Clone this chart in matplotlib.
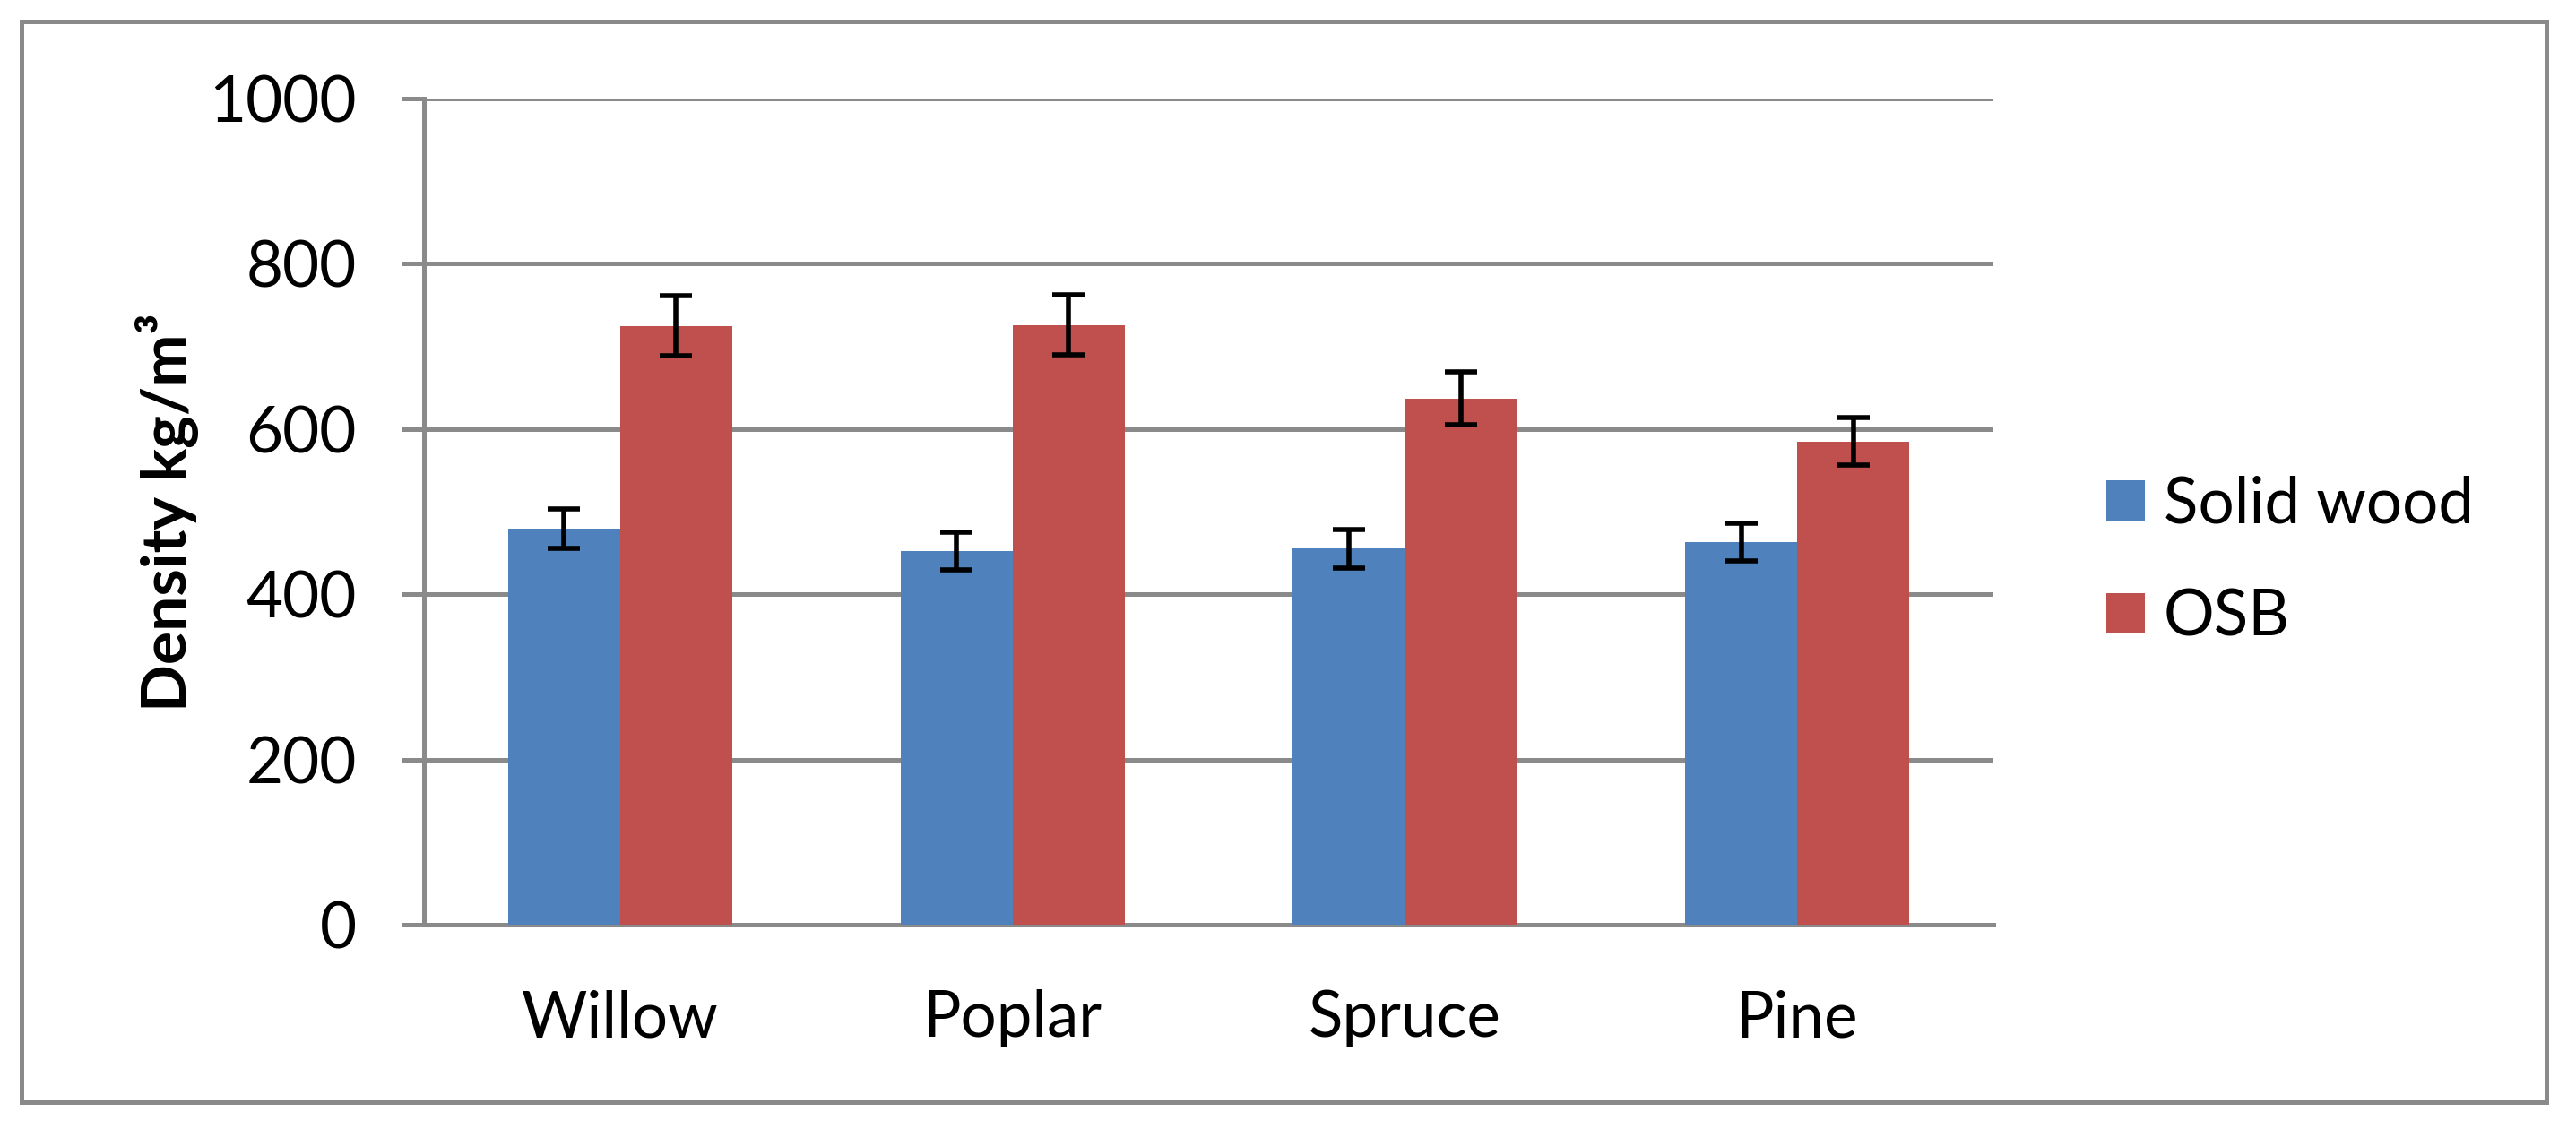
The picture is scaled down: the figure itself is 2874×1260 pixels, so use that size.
import matplotlib

matplotlib.use("Agg")
import matplotlib.pyplot as plt
import numpy as np
from matplotlib.patches import Rectangle

species = ["Willow", "Poplar", "Spruce", "Pine"]
series_names = ["Solid wood", "OSB"]
solid_wood = [479, 452, 455, 463]
solid_wood_err = [24, 23, 23, 23]
osb = [725, 726, 637, 585]
osb_err = [36, 36, 32, 29]
y_ticks = [0, 200, 400, 600, 800, 1000]

BLUE = "#4F81BD"
RED = "#C0504D"
GRAY = "#8a8a8a"
W, H, DPI = 2874, 1260, 100


def px_x(x):
    return x / W


def px_y(y):
    return 1 - y / H


def main():
    plt.rcParams["font.family"] = ["Lato", "DejaVu Sans"]
    fig = plt.figure(figsize=(W / DPI, H / DPI), dpi=DPI)
    ax = fig.add_axes([px_x(473), px_y(1032), px_x(2224 - 473), (1032 - 110) / H])

    x = np.arange(len(species))
    width = 1 / 3.5
    ax.bar(x - width / 2, solid_wood, width, color=BLUE, label=series_names[0], zorder=3)
    ax.bar(x + width / 2, osb, width, color=RED, label=series_names[1], zorder=3)
    err_kw = dict(fmt="none", ecolor="black", elinewidth=4, capsize=13, capthick=4, zorder=4)
    ax.errorbar(x - width / 2, solid_wood, yerr=solid_wood_err, **err_kw)
    ax.errorbar(x + width / 2, osb, yerr=osb_err, **err_kw)

    ax.set_xlim(-0.5, len(species) - 0.5)
    ax.set_ylim(0, 1000)
    ax.set_yticks(y_ticks)
    ax.set_xticks(x)
    ax.set_xticklabels(species)
    ax.yaxis.grid(True, color=GRAY, linewidth=3.6, zorder=0)
    ax.set_axisbelow(True)

    for side in ["top", "right"]:
        ax.spines[side].set_visible(False)
    for side in ["left", "bottom"]:
        ax.spines[side].set_color(GRAY)
        ax.spines[side].set_linewidth(3.6)
    ax.tick_params(axis="y", length=18, width=3.6, color=GRAY, pad=36, labelsize=51)
    ax.tick_params(axis="x", length=0, pad=52, labelsize=51)

    fig.text(px_x(187), px_y(572), "Density kg/m³", rotation=90, ha="center", va="center",
             fontsize=50, fontweight="bold")

    fig.legend(loc="center left", bbox_to_anchor=(px_x(2350), px_y(626)), frameon=False,
               fontsize=51, handlelength=0.6, handleheight=0.6, handletextpad=0.3,
               labelspacing=0.85, borderpad=0, borderaxespad=0)

    frame = Rectangle((px_x(24), px_y(1230)), px_x(2841 - 24), (1230 - 24) / H,
                      transform=fig.transFigure, fill=False, edgecolor=GRAY, linewidth=3.6)
    fig.patches.append(frame)

    fig.savefig("out.png", dpi=DPI)
    plt.close(fig)


if __name__ == "__main__":
    main()
